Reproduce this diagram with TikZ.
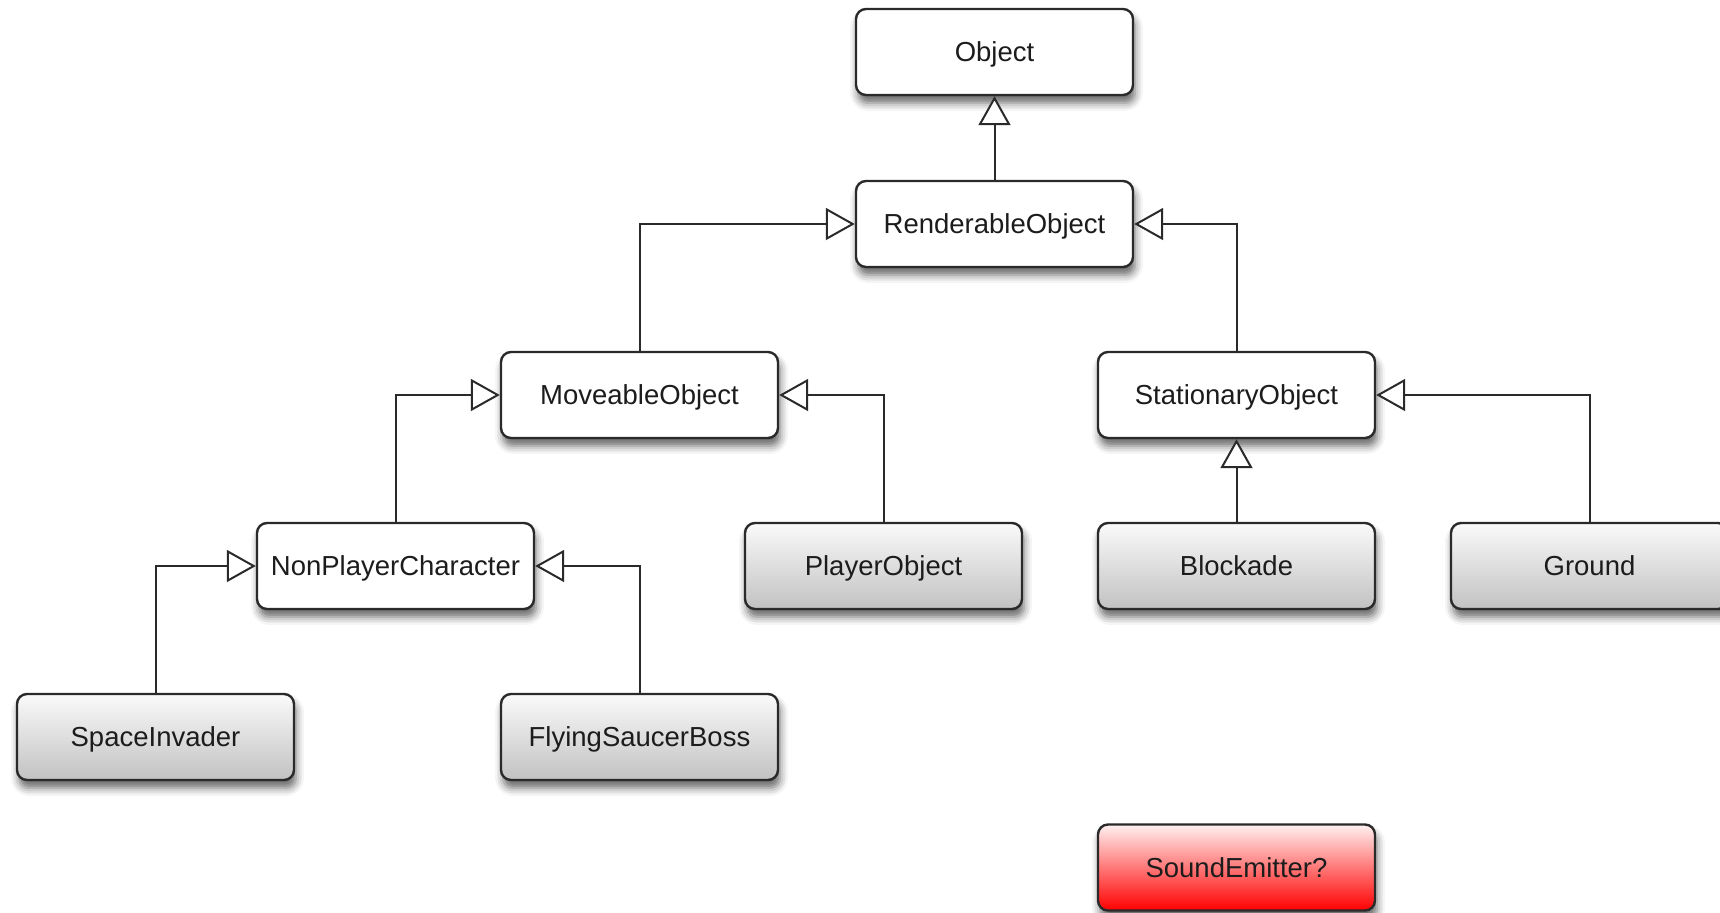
\documentclass[tikz,border=0pt]{standalone}
\usepackage{fontspec}
\setmainfont{Liberation Sans}
\usetikzlibrary{arrows.meta,shadows.blur}

\definecolor{inkcol}{HTML}{2A2A2A}
\definecolor{txtcol}{HTML}{1C1C1C}

\tikzset{
  classbox/.style={
    draw=inkcol, line width=1.2pt, rounded corners=5pt,
    minimum width=138.5pt, minimum height=43pt, inner sep=0pt,
    text height=9.9pt, text depth=0pt,
    text=txtcol, font=\fontsize{13.75}{16}\selectfont,
    blur shadow={shadow xshift=1pt, shadow yshift=-4pt,
                 shadow blur radius=4pt, shadow opacity=60}
  },
  abstractbox/.style={classbox, fill=white},
  concretebox/.style={classbox, top color=black!2, bottom color=black!24},
  doubtbox/.style={classbox, top color=red!6, middle color=red!50, bottom color=red!100},
  inherits/.style={
    draw=inkcol, line width=1pt,
    -{Triangle[open, length=14.5pt, width=16pt, fill=white]}
  }
}

\begin{document}
\begin{tikzpicture}[x=0.5pt, y=-0.5pt]
  \useasboundingbox (0,0) rectangle (1720,912);
  \clip (0,0) rectangle (1720,912);

  % class hierarchy
  \node[abstractbox] (obj)   at (994.5,52)  {Object};
  \node[abstractbox] (rend)  at (994.5,224) {RenderableObject};
  \node[abstractbox] (move)  at (639.5,395) {MoveableObject};
  \node[abstractbox] (stat)  at (1236.5,395) {StationaryObject};
  \node[abstractbox] (npc)   at (395.5,566) {NonPlayerCharacter};
  \node[concretebox] (player) at (883.5,566) {PlayerObject};
  \node[concretebox] (block) at (1236.5,566) {Blockade};
  \node[concretebox] (ground) at (1589.5,566) {Ground};
  \node[concretebox] (invader) at (155.5,737) {SpaceInvader};
  \node[concretebox] (boss)  at (639.5,737) {FlyingSaucerBoss};
  \node[doubtbox]    (sound) at (1236.5,867.5) {SoundEmitter?};

  % generalisation links
  \draw[inherits] (rend.north) -- (obj.south);
  \draw[inherits] (move.north) |- (rend.west);
  \draw[inherits] (stat.north) |- (rend.east);
  \draw[inherits] (npc.north) |- (move.west);
  \draw[inherits] (player.north) |- (move.east);
  \draw[inherits] (block.north) -- (stat.south);
  \draw[inherits] (ground.north) |- (stat.east);
  \draw[inherits] (invader.north) |- (npc.west);
  \draw[inherits] (boss.north) |- (npc.east);
\end{tikzpicture}
\end{document}
